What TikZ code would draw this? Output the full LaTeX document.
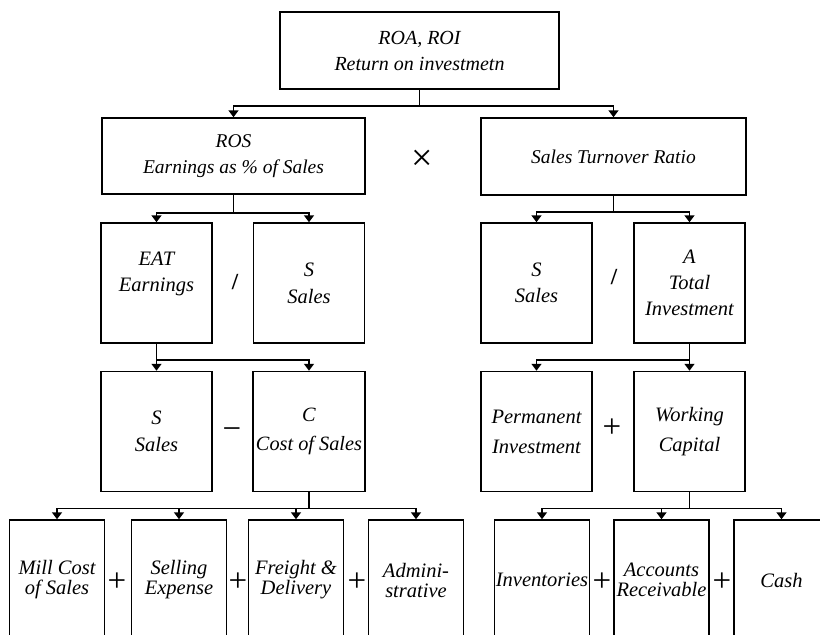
\documentclass[tikz,border=0pt]{standalone}
\usepackage{fontspec}
\setmainfont{Liberation Serif}
\usetikzlibrary{arrows.meta}
\tikzset{
  box/.style={draw, line width=1.5pt, inner sep=0pt, align=center,
    font=\fontsize{20.5}{27}\selectfont\itshape},
  topbox/.style={box, font=\fontsize{19.5}{26}\selectfont\itshape},
  midbox/.style={box, minimum width=111pt, minimum height=120pt},
  lowbox/.style={box, minimum width=95pt, minimum height=120pt,
    font=\fontsize{20.5}{20}\selectfont\itshape},
  lbl/.style={inner sep=0pt, align=center, font=\fontsize{20.5}{26}\selectfont\itshape},
  opr/.style={inner sep=0pt, font=\fontsize{33}{33}\selectfont},
  arr/.style={line width=1.5pt, -{Triangle[width=10pt,length=7pt]}},
}
\begin{document}
\begin{tikzpicture}[x=1pt,y=-1pt]
\useasboundingbox (0,0) rectangle (820,635);
\clip (0,0) rectangle (820,635);
% level 1
\node[topbox, minimum width=279pt, minimum height=77pt, font=\fontsize{20}{26}\selectfont\itshape] (top) at (419.5,50.5) {ROA, ROI\\Return on investmetn};
% level 2
\node[topbox, minimum width=263pt, minimum height=76pt] (ros) at (233.5,156) {ROS\\Earnings as \% of Sales};
\node[topbox, minimum width=265pt, minimum height=77pt] (str) at (613.5,156.5) {Sales Turnover Ratio};
\node[opr, font=\fontsize{38}{38}\selectfont] (times) at (422,160) {×};
% level 3
\node[midbox] (eat) at (156.5,283) {};
\node[lbl] (eattxt) at ([yshift=9pt]eat.center) {EAT\\Earnings};
\node[midbox, font=\fontsize{20.5}{27}\selectfont\itshape] (s1) at (309,283) {S\\Sales};
\node[midbox, font=\fontsize{20.5}{26}\selectfont\itshape] (s2) at (536.5,283) {S\\Sales};
\node[midbox, font=\fontsize{20.5}{26}\selectfont\itshape] (a) at (689.5,283) {A\\Total\\Investment};
\node[opr, font=\fontsize{23}{23}\selectfont\bfseries] (div1) at (235,282) {/};
\node[opr, font=\fontsize{23}{23}\selectfont\bfseries] (div2) at (614,277) {/};
% level 4
\node[midbox] (s3) at (156.5,431.5) {S\\Sales};
\node[midbox, minimum width=112pt, font=\fontsize{20.3}{29}\selectfont\itshape] (c) at (309,431.5) {C\\Cost of Sales};
\node[midbox, font=\fontsize{20.5}{30}\selectfont\itshape] (perm) at (536.5,431.5) {Permanent\\Investment};
\node[midbox, font=\fontsize{20.5}{30}\selectfont\itshape] (wc) at (689.5,431.5) {Working\\Capital};
\node[opr] (minus) at (232,434) {−};
\node[opr] (plus1) at (612,428) {+};
% level 5
\node[lowbox] (mill) at (57,580) {Mill Cost\\of Sales};
\node[lowbox] (sell) at (179,580) {Selling\\Expense};
\node[lowbox] (frt) at (296,580) {Freight \&\\Delivery};
\node[lowbox] (adm) at (416,580) {Admini-\\strative};
\node[lowbox] (inv) at (542,580) {Inventories};
\node[lowbox] (acc) at (661.5,580) {Accounts\\Receivable};
\node[lowbox] (cash) at (781.5,580) {Cash};
\node[opr] (p2) at (117,582) {+};
\node[opr] (p3) at (238,582) {+};
\node[opr] (p4) at (357,582) {+};
\node[opr] (p5) at (602,582) {+};
\node[opr] (p6) at (722,582) {+};
% connectors
\draw[arr] (top.south) -- ++(0,16) -| (ros.north);
\draw[arr] (top.south) -- ++(0,16) -| (str.north);
\draw[arr] (ros.south) -- ++(0,18) -| (eat.north);
\draw[arr] (ros.south) -- ++(0,18) -| (s1.north);
\draw[arr] (str.south) -- ++(0,16) -| (s2.north);
\draw[arr] (str.south) -- ++(0,16) -| (a.north);
\draw[arr] (eat.south) -- (s3.north);
\draw[arr] (eat.south) -- ++(0,16) -| (c.north);
\draw[arr] (a.south) -- (wc.north);
\draw[arr] (a.south) -- ++(0,16) -| (perm.north);
\foreach \n in {mill,sell,frt,adm}
  \draw[arr] (c.south) -- ++(0,16) -| (\n.north);
\foreach \n in {inv,acc,cash}
  \draw[arr] (wc.south) -- ++(0,16) -| (\n.north);
\end{tikzpicture}
\end{document}
